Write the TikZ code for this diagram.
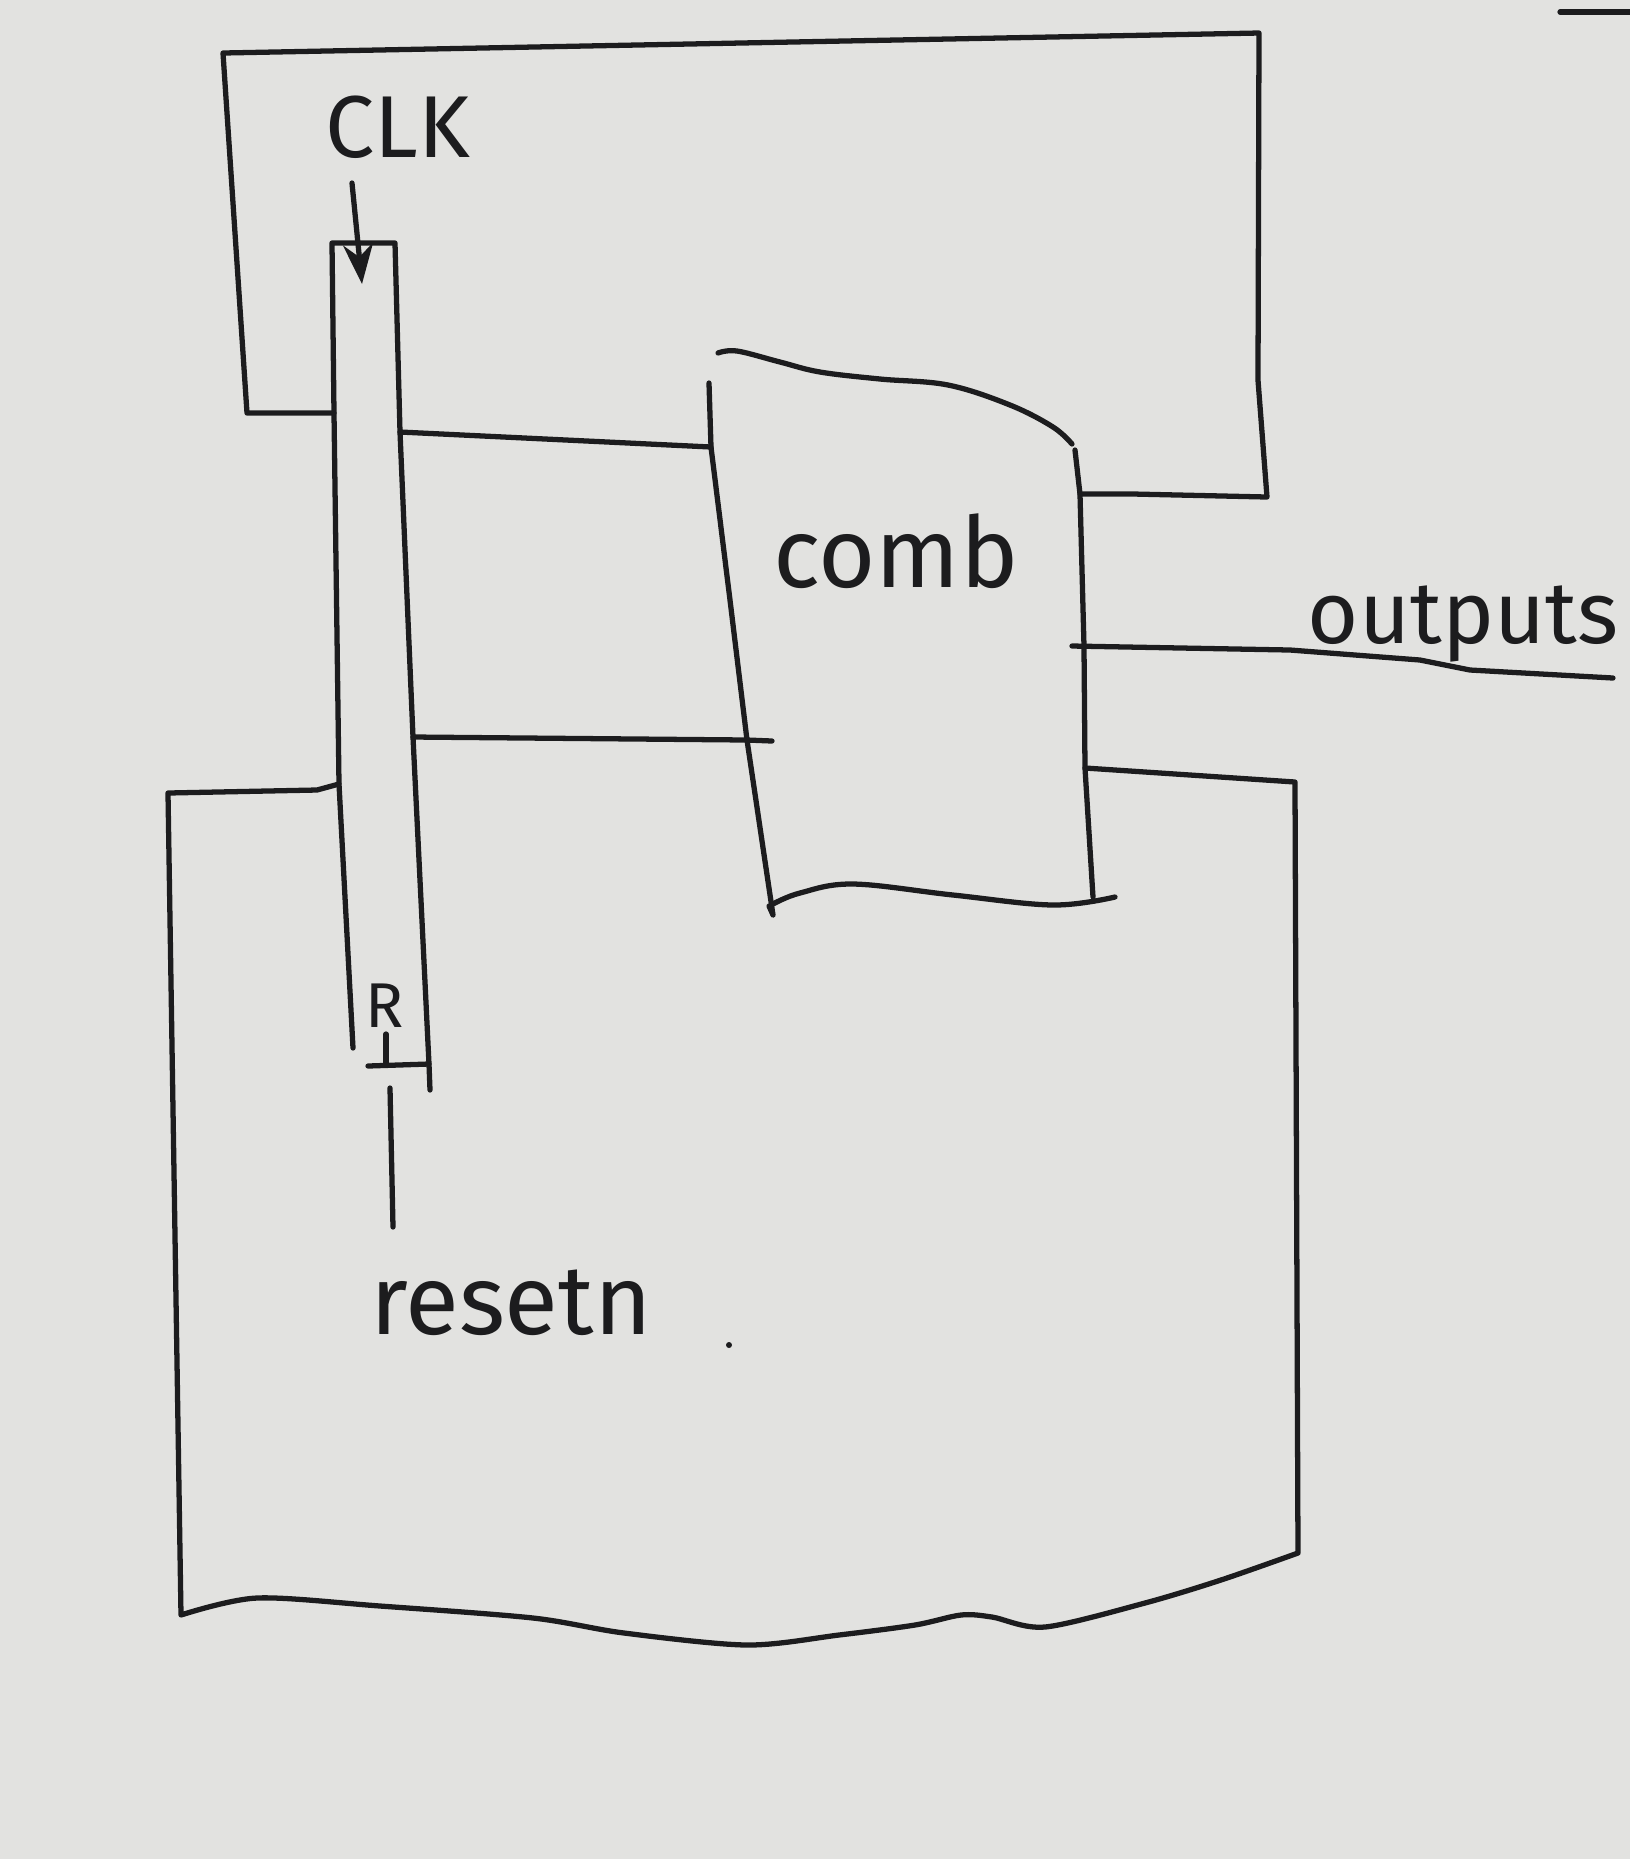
\documentclass[tikz,border=0pt]{standalone}
\usepackage{fontspec}
\setmainfont{Fira Sans}
\usetikzlibrary{arrows.meta,positioning,calc}
\definecolor{paper}{HTML}{E2E2E0}
\definecolor{ink}{HTML}{1C1C1E}
\tikzset{
  >=Stealth,
  pen/.style={draw=ink,line width=1.5pt,line join=round,line cap=round},
  wire/.style={pen},
  lbl/.style={text=ink,inner sep=0pt,anchor=base},
}
\begin{document}
\begin{tikzpicture}[x=0.1mm,y=-0.1mm]
  \fill[paper] (0,0) rectangle (1630,1859);
  \useasboundingbox (0,0) rectangle (1630,1859);

  % register: tall thin box, open at the bottom
  \coordinate (regTL) at (332,243);
  \coordinate (regTR) at (395,243);
  \coordinate (regD1) at (334,413);
  \coordinate (regD2) at (339,784);
  \coordinate (regBL) at (353,1048);
  \coordinate (regQ1) at (400,432);
  \coordinate (regQ2) at (413,737);
  \coordinate (regR)  at (429,1064);
  \coordinate (regBR) at (430,1090);
  \draw[pen] (regBL) -- (regD2) -- (regD1) -- (regTL) -- (regTR)
    -- (regQ1) -- (regQ2) -- (regR) -- (regBR);

  % reset pin
  \coordinate (rstBar) at (368,1066);
  \coordinate (rstTick) at (386,1034);
  \coordinate (rstTop) at (390,1088);
  \coordinate (rstEnd) at (393,1227);
  \draw[pen] (rstBar) -- (regR);
  \draw[pen] (rstTick) -- (386,1064);
  \draw[pen] (rstTop) -- (rstEnd);

  % clock pin
  \node[lbl,font=\fontsize{25}{30}\selectfont] (clk) at (398,157) {CLK};
  \coordinate (clkTail) at (352,183);
  \coordinate (clkHead) at (362,284);
  \draw[pen,-{Stealth[length=4mm,width=3mm]}] (clkTail) -- (clkHead);

  % combinational block
  \coordinate (cmbTL) at (709,383);
  \coordinate (cmbI1) at (711,447);
  \coordinate (cmbI2) at (747,740);
  \coordinate (cmbBL) at (773,915);
  \coordinate (cmbTR) at (1075,450);
  \coordinate (cmbO1) at (1080,494);
  \coordinate (cmbO2) at (1084,646);
  \coordinate (cmbO3) at (1085,768);
  \coordinate (cmbBR) at (1093,897);
  \draw[pen] plot[smooth,tension=0.6] coordinates {(718,353) (737,351) (780,362)
    (820,372) (880,379) (948,385) (1010,405) (1053,427) (1072,444)};
  \draw[pen] (cmbTR) -- (cmbO1) -- (cmbO2) -- (cmbO3) -- (cmbBR);
  \draw[pen] (cmbTL) -- (cmbI1) -- (730,600) -- (cmbI2) -- (cmbBL) -- (769,906);
  \draw[pen] plot[smooth,tension=0.6] coordinates {(773,904) (800,893) (853,884)
    (953,895) (1053,905) (1115,897)};
  \node[lbl,font=\fontsize{28}{32}\selectfont] (comb) at (896,587) {comb};

  % wires register -> comb
  \coordinate (cmbI2end) at (772,741);
  \draw[wire] (regQ1) -- (cmbI1);
  \draw[wire] (regQ2) -- (cmbI2) -- (cmbI2end);

  % outputs
  \coordinate (outStart) at (1072,646);
  \coordinate (outEnd) at (1613,678);
  \draw[wire] (outStart) -- (1290,650) -- (1420,660) -- (1470,670) -- (outEnd);
  \node[lbl,font=\fontsize{25}{30}\selectfont] (outputs) at (1463,643) {outputs};

  % upper feedback loop
  \draw[wire] (cmbO1) -- (1133,494) -- (1267,497) -- (1258,380) -- (1259,33)
    -- (223,53) -- (247,413) -- (regD1);

  % lower feedback loop
  \draw[wire] (cmbO3) -- (1295,782) -- (1298,1553)
    plot[smooth,tension=0.5] coordinates {(1298,1553) (1221,1580) (1145,1603)
      (1045,1627) (992,1617) (961,1615) (915,1625) (839,1635) (747,1645)
      (624,1633) (533,1618) (380,1606) (257,1598) (181,1615)}
    -- (168,793) -- (317,790) -- (regD2);

  % labels
  \node[lbl,font=\fontsize{18}{20}\selectfont] (rlbl) at (385,1027) {R};
  \node[lbl,font=\fontsize{28}{32}\selectfont] (resetn) at (511,1334) {resetn};

  % stray pen marks
  \fill[ink] (729,1345) circle (3);
  \coordinate (markA) at (1560,12);
  \coordinate (markB) at (1630,12);
  \draw[pen] (markA) -- (markB);
\end{tikzpicture}
\end{document}
